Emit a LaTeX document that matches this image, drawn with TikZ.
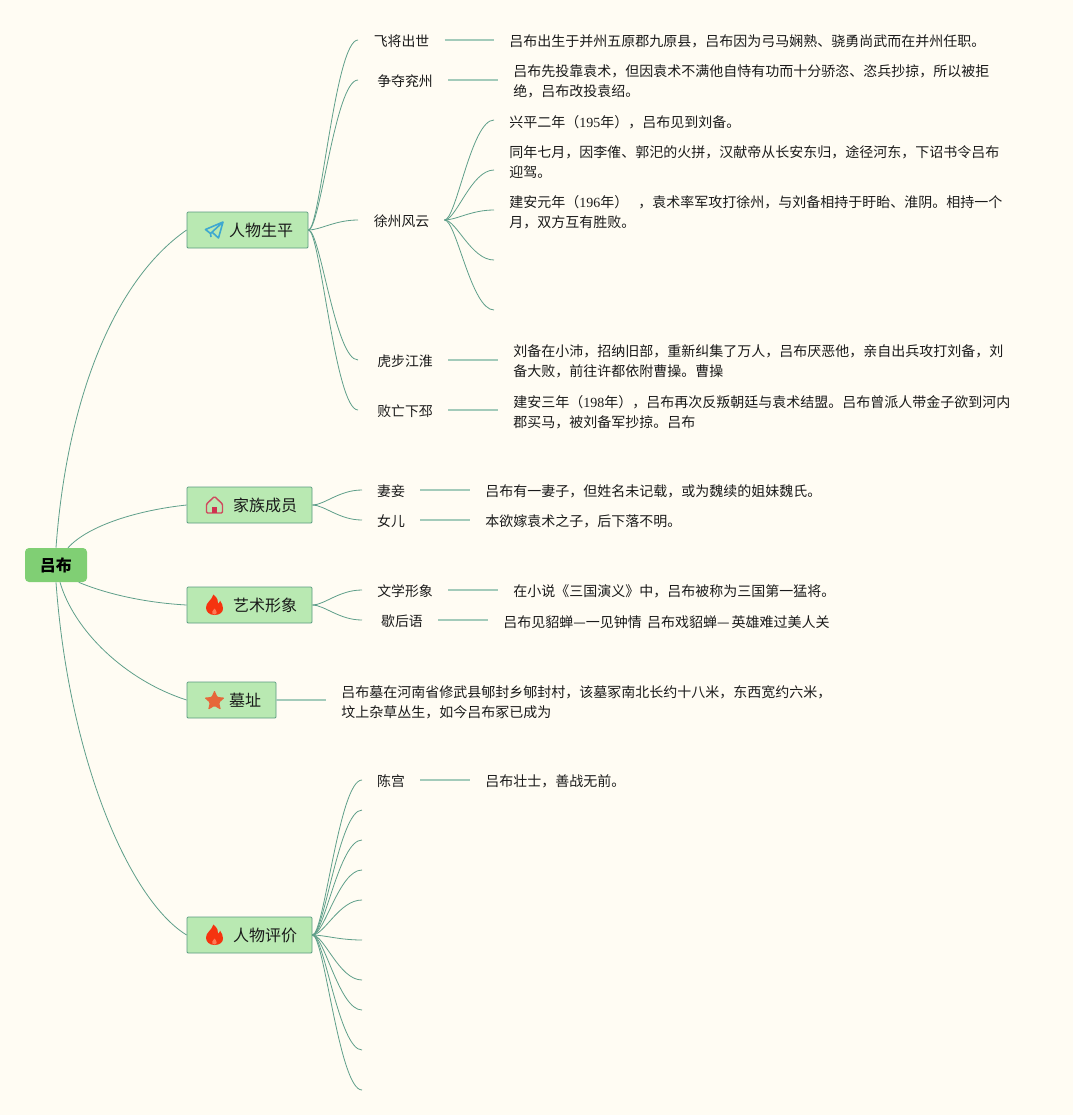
\documentclass[tikz,border=0pt]{standalone}
\usepackage{fontspec}
\usetikzlibrary{calc}
\setmainfont{Liberation Serif}
\newfontfamily\cjk{Noto Sans CJK SC}
\definecolor{bgc}{HTML}{FFFCF3}
\definecolor{linec}{HTML}{5F9F8A}
\definecolor{stubc}{HTML}{A3CBBA}
\definecolor{rootc}{HTML}{80CF74}
\definecolor{branchc}{HTML}{B9E9B2}
\definecolor{branchb}{HTML}{5A9B80}
\definecolor{txt}{HTML}{1A1A1A}
\newcommand{\nm}[1]{{\fontspec{Liberation Serif}#1}}
\newcommand{\lnk}[2]{\draw[curve] (#1) .. controls ($(#1)!.24!(#2 |- #1)$) and ($(#2)!.46!(#1 |- #2)$) .. (#2);}
\newcommand{\dn}[1]{\raisebox{-1.2pt}{#1}}
\tikzset{
  curve/.style={draw=linec,line width=.6pt},
  stub/.style={draw=stubc,line width=1pt},
  rootbox/.style={draw=none,fill=rootc,rounded corners=3pt,minimum width=46.5pt,minimum height=25.5pt,inner sep=0pt,font=\cjk\fontsize{12}{14}\selectfont\bfseries,text=black},
  branchbox/.style={draw=branchb,line width=.6pt,fill=branchc,rounded corners=.8pt,minimum height=27pt,inner sep=0pt,font=\cjk\fontsize{12}{14}\selectfont,text=txt},
  leaf/.style={inner xsep=11.25pt,inner ysep=0pt,font=\cjk\fontsize{10.4}{15}\selectfont,text=txt},
  body/.style={anchor=west,align=left,inner xsep=11.25pt,inner ysep=0pt,yshift=-.6pt,font=\cjk\fontsize{10.5}{15}\selectfont,text=txt},
  flamepic/.pic={
    \fill[color={rgb,255:red,245;green,51;blue,15}] (0,10) .. controls (-5.5,10) and (-8.5,6.5) .. (-8.5,2.5) .. controls (-8.5,-2.5) and (-3,-4.5) .. (-1,-10.5) .. controls (3,-7) and (4,-4) .. (3.5,-1.5) .. controls (5,-2.5) and (5.5,-3.5) .. (5.5,-4.5) .. controls (7.5,-2) and (8.5,1) .. (8.5,3.5) .. controls (8.5,7) and (5.5,10) .. (0,10) -- cycle;
    \fill[color={rgb,255:red,255;green,120;blue,85}] (0,9.5) .. controls (-2,9.5) and (-3,8) .. (-2.2,6.5) .. controls (-1.4,5.5) and (-.5,4.5) .. (0,3.5) .. controls (.8,4.5) and (2.2,6) .. (2.2,7.5) .. controls (2.2,8.8) and (1.2,9.5) .. (0,9.5) -- cycle;
  },
  starpic/.pic={
    \fill[color={rgb,255:red,230;green,103;blue,58},rounded corners=.8pt] (90:-10.8) -- (126:-5) -- (162:-10.8) -- (198:-5) -- (234:-10.8) -- (270:-5) -- (306:-10.8) -- (342:-5) -- (18:-10.8) -- (54:-5) -- cycle;
  },
  housepic/.pic={
    \draw[color={rgb,255:red,207;green,74;blue,94},line width=1.1pt,line join=round,rounded corners=.8pt] (-8,8) -- (-8,-1) -- (0,-8.5) -- (8,-1) -- (8,8) -- cycle;
    \fill[color={rgb,255:red,207;green,50;blue,80}] (-2.4,8) -- (-2.4,1.5) -- (2.4,1.5) -- (2.4,8) -- cycle;
  },
  planepic/.pic={
    \draw[color={rgb,255:red,62;green,168;blue,208},line width=1.2pt,line join=round] (8.5,-8.5) -- (-9,-1) -- (-4,3) -- (8.5,-8.5) -- (4,7.5) -- (-2,2);
    \draw[color={rgb,255:red,62;green,168;blue,208},line width=1.2pt] (-4,3) -- (-3.5,6.5);
  }
}
\begin{document}
\begin{tikzpicture}[x=.75pt,y=-.75pt]
\useasboundingbox (0,0) rectangle (1073,1115);
\fill[bgc] (0,0) rectangle (1073,1115);

% root and branches
\node[rootbox] (root) at (56,565) {\dn{吕布}};
\node[branchbox,minimum width=90.75pt,text width=68.25pt,align=right] (b1) at (247.5,230) {\dn{人物生平}};
\node[branchbox,minimum width=93.75pt,text width=71.25pt,align=right] (b2) at (249.5,505) {\dn{家族成员}};
\node[branchbox,minimum width=93.75pt,text width=71.25pt,align=right] (b3) at (249.5,605) {\dn{艺术形象}};
\node[branchbox,minimum width=66.75pt,text width=44.25pt,align=right] (b4) at (231.5,700) {\dn{墓址}};
\node[branchbox,minimum width=93.75pt,text width=71.25pt,align=right] (b5) at (249.5,935) {\dn{人物评价}};
\pic at (214.5,230.5) {planepic};
\pic at (214.5,505) {housepic};
\pic at (214.5,605) {flamepic};
\pic at (214.5,701) {starpic};
\pic at (214.5,935) {flamepic};

% root connectors
\draw[curve] (root.north) .. controls +(11,-150) and +(-72,50) .. (b1.west);
\draw[curve] ([xshift=9pt]root.north) .. controls +(21,-23) and +(-47,5) .. (b2.west);
\draw[curve] ([xshift=17pt]root.south) .. controls +(31,13) and +(-37,-2) .. (b3.west);
\draw[curve] ([xshift=3pt]root.south) .. controls +(14,48) and +(-62,-20) .. (b4.west);
\draw[curve] (root.south) .. controls +(13,178) and +(-57,-35) .. (b5.west);

% level 2 : life
\node[leaf] (l1) at (401.5,41) {\dn{飞将出世}};
\node[leaf] (l2) at (405,81) {\dn{争夺兖州}};
\node[leaf] (l3) at (401.5,221) {\dn{徐州风云}};
\node[leaf] (l4) at (405,361) {\dn{虎步江淮}};
\node[leaf] (l5) at (405,411) {\dn{败亡下邳}};
\coordinate (e1) at (358,40);
\coordinate (e2) at (358,80);
\coordinate (e3) at (358,220);
\coordinate (e4) at (358,360);
\coordinate (e5) at (358,410);
\lnk{b1.east}{e1}
\lnk{b1.east}{e2}
\lnk{b1.east}{e3}
\lnk{b1.east}{e4}
\lnk{b1.east}{e5}

\node[body] (t1) at (494,41) {吕布出生于并州五原郡九原县，吕布因为弓马娴熟、骁勇尚武而在并州任职。};
\node[body] (t2) at (498,81) {吕布先投靠袁术，但因袁术不满他自恃有功而十分骄恣、恣兵抄掠，所以被拒\\绝，吕布改投袁绍。};
\node[body] (t31) at (494,121) {兴平二年（\nm{195}年），吕布见到刘备。};
\node[body] (t32) at (494,161) {同年七月，因李傕、郭汜的火拼，汉献帝从长安东归，途径河东，下诏书令吕布\\迎驾。};
\node[body] (t33) at (494,211) {建安元年（\nm{196}年）\hspace{7.5pt}，袁术率军攻打徐州，与刘备相持于盱眙、淮阴。相持一个\\月，双方互有胜败。};
\coordinate (e34) at (494,260);
\coordinate (e35) at (494,310);
\node[body] (t4) at (498,361) {刘备在小沛，招纳旧部，重新纠集了万人，吕布厌恶他，亲自出兵攻打刘备，刘\\备大败，前往许都依附曹操。曹操};
\node[body] (t5) at (498,411) {建安三年（\nm{198}年），吕布再次反叛朝廷与袁术结盟。吕布曾派人带金子欲到河内\\郡买马，被刘备军抄掠。吕布};

\draw[stub] (l1.east |- 0,40) -- (t1.west |- 0,40);
\draw[stub] (l2.east |- 0,80) -- (t2.west |- 0,80);
\draw[stub] (l4.east |- 0,360) -- (t4.west |- 0,360);
\draw[stub] (l5.east |- 0,410) -- (t5.west |- 0,410);
\coordinate (h3) at (l3.east |- 0,220);
\coordinate (c31) at (t31.west |- 0,120);
\coordinate (c32) at (t32.west |- 0,170);
\coordinate (c33) at (t33.west |- 0,210);
\lnk{h3}{c31}
\lnk{h3}{c32}
\lnk{h3}{c33}
\lnk{h3}{e34}
\lnk{h3}{e35}

% family
\node[leaf] (f1) at (391,491) {\dn{妻妾}};
\node[leaf] (f2) at (391,521) {\dn{女儿}};
\node[body] (ft1) at (470,491) {吕布有一妻子，但姓名未记载，或为魏续的姐妹魏氏。};
\node[body] (ft2) at (470,521) {本欲嫁袁术之子，后下落不明。};
\coordinate (fe1) at (362,490);
\coordinate (fe2) at (362,520);
\lnk{b2.east}{fe1}
\lnk{b2.east}{fe2}
\draw[stub] (f1.east |- 0,490) -- (ft1.west |- 0,490);
\draw[stub] (f2.east |- 0,520) -- (ft2.west |- 0,520);

% art
\node[leaf] (a1) at (405,591) {\dn{文学形象}};
\node[leaf] (a2) at (402,621) {\dn{歇后语}};
\node[body] (at1) at (498,591) {在小说《三国演义》中，吕布被称为三国第一猛将。};
\node[body] (at2) at (488,621) {吕布见貂蝉—一见钟情\hspace{4pt}吕布戏貂蝉—\hspace{1.5pt}英雄难过美人关};
\coordinate (ae1) at (362,590);
\coordinate (ae2) at (362,620);
\lnk{b3.east}{ae1}
\lnk{b3.east}{ae2}
\draw[stub] (a1.east |- 0,590) -- (at1.west |- 0,590);
\draw[stub] (a2.east |- 0,620) -- (at2.west |- 0,620);

% tomb
\node[body] (mt) at (326,701) {吕布墓在河南省修武县郇封乡郇封村，该墓冢南北长约十八米，东西宽约六米，\\坟上杂草丛生，如今吕布冢已成为};
\draw[stub] (b4.east) -- (mt.west |- b4.east);

% evaluation
\node[leaf] (p1) at (391,781) {\dn{陈宫}};
\node[body] (pt1) at (470,781) {吕布壮士，善战无前。};
\coordinate (pe1) at (362,780);
\draw[stub] (p1.east |- 0,780) -- (pt1.west |- 0,780);
\lnk{b5.east}{pe1}
\foreach \yy in {810,840,870,900,940,980,1010,1050,1090}{
  \coordinate (pe) at (362,\yy);
  \lnk{b5.east}{pe}
}
\end{tikzpicture}
\end{document}
